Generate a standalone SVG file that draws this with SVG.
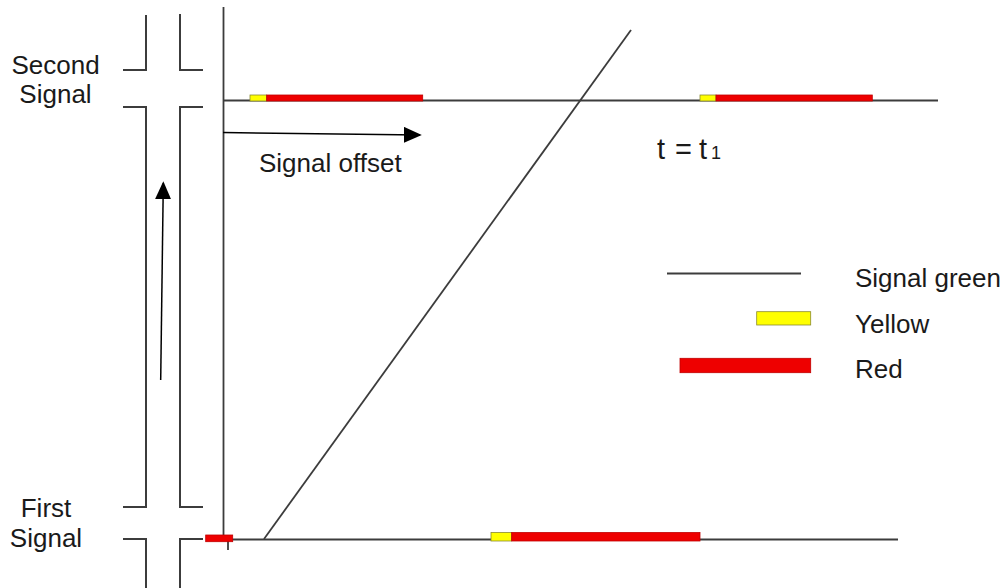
<svg xmlns="http://www.w3.org/2000/svg" width="1006" height="588" viewBox="0 0 1006 588">
<defs>
<style>
.ln{stroke:#3c3c3c;stroke-width:1.8;fill:none}
.rd{stroke:#3c3c3c;stroke-width:2;fill:none}
.red{fill:#ee0000;stroke:#c00000;stroke-width:0.8}
.yel{fill:#ffff00;stroke:#8a8a30;stroke-width:0.8}
.tx{font-family:"Liberation Sans",Arial,sans-serif;font-size:26px;fill:#1a1a1a}
</style>
<marker id="ah2" viewBox="0 0 10 10" refX="9" refY="5" markerWidth="18" markerHeight="16" markerUnits="userSpaceOnUse" orient="auto" preserveAspectRatio="none">
<path d="M0,0 L10,5 L0,10 z" fill="#000"/>
</marker>
</defs>
<rect width="1006" height="588" fill="#fff"/>
<g id="roads">
<path class="rd" d="M146,15 V70 H123"/>
<path class="rd" d="M180,14 V70 H203"/>
<path class="rd" d="M123,107 H146 V507 H123"/>
<path class="rd" d="M203,107 H180 V507 H203"/>
<path class="rd" d="M123,539 H146 V588"/>
<path class="rd" d="M203,539 H180 V588"/>
</g>
<g id="axes">
<line class="ln" x1="223.5" y1="7" x2="223.5" y2="537"/>
<line class="ln" x1="228" y1="540" x2="228" y2="550"/>
<line class="ln" x1="223" y1="100.5" x2="938" y2="100.5"/>
<line class="ln" x1="232" y1="539.5" x2="898" y2="539.5"/>
</g>
<g id="connectors">
<line class="ln" x1="264" y1="539" x2="631" y2="30"/>
<line x1="223" y1="132.5" x2="420" y2="135" stroke="#000" stroke-width="1.5" marker-end="url(#ah2)"/>
<line x1="160.7" y1="380" x2="163.3" y2="183" stroke="#000" stroke-width="1.5" marker-end="url(#ah2)"/>
</g>
<g id="second-signal-bars">
<rect class="yel" x="250" y="95" width="16.7" height="6"/>
<rect class="red" x="266.7" y="95" width="156" height="6"/>
<rect class="yel" x="700" y="95" width="16" height="6"/>
<rect class="red" x="716" y="95" width="156.3" height="6"/>
</g>
<g id="first-signal-bars">
<rect class="red" x="205.7" y="535" width="27" height="6.7"/>
<rect class="yel" x="491" y="532.5" width="20.7" height="8.5"/>
<rect class="red" x="511.7" y="532.5" width="188.3" height="8.5"/>
</g>
<g id="labels">
<text class="tx" x="55.5" y="74" text-anchor="middle">Second</text>
<text class="tx" x="55.5" y="103" text-anchor="middle">Signal</text>
<text class="tx" x="46" y="517" text-anchor="middle">First</text>
<text class="tx" x="46" y="547" text-anchor="middle">Signal</text>
<text class="tx" x="259" y="172">Signal offset</text>
<text class="tx" y="159" style="font-size:29px"><tspan x="657">t</tspan><tspan x="675">=</tspan><tspan x="699">t</tspan><tspan x="711" style="font-size:18px">1</tspan></text>
</g>
<g id="legend">
<line class="ln" x1="667" y1="273.5" x2="801" y2="273.5"/>
<rect class="yel" x="756.7" y="311.7" width="54" height="13.3"/>
<rect class="red" x="680" y="358.3" width="130.7" height="14.4"/>
<text class="tx" x="855" y="287">Signal green</text>
<text class="tx" x="855" y="333">Yellow</text>
<text class="tx" x="855" y="378">Red</text>
</g>
</svg>
